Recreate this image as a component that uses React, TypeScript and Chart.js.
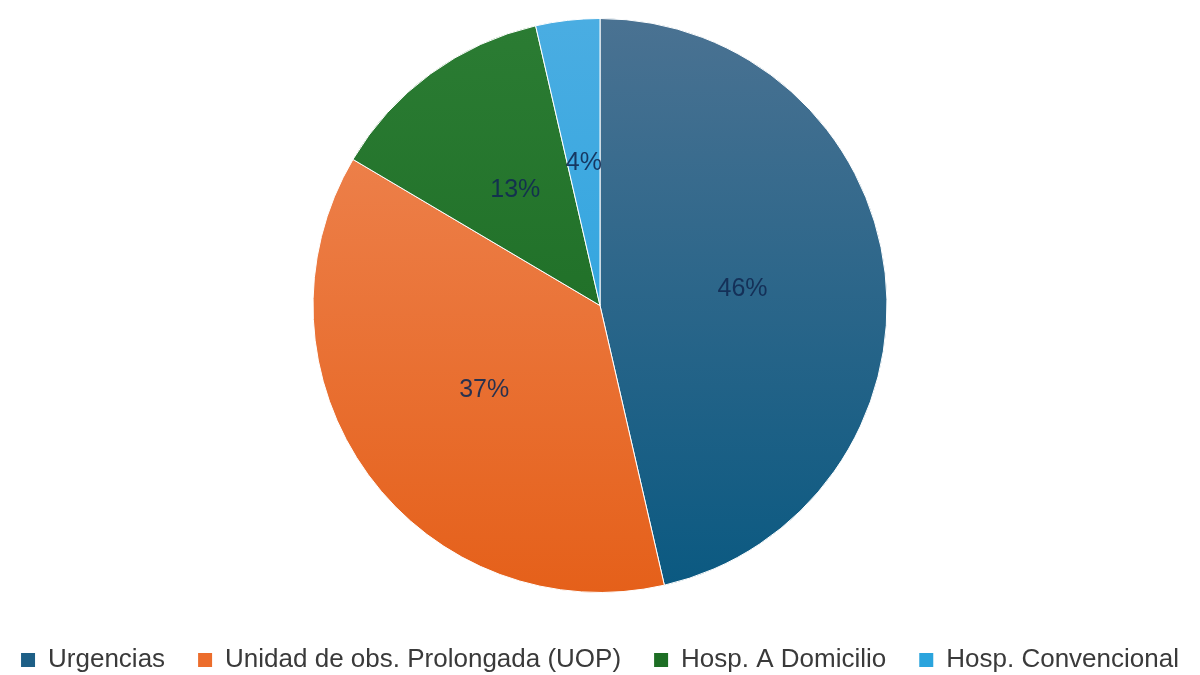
import React, { useEffect, useRef } from "react";
import { Chart, registerables } from "chart.js";

Chart.register(...registerables);

const categories = [
  "Urgencias",
  "Unidad de obs. Prolongada (UOP)",
  "Hosp. A Domicilio",
  "Hosp. Convencional",
];
const shares = [46.4, 37.1, 12.9, 3.6];
const topColors = ["#4a7292", "#ef8958", "#2b7c33", "#4aade2"];
const bottomColors = ["#0a5981", "#e5601a", "#17661f", "#1e9fdd"];
const legendColors = ["#1d5f86", "#ec6d2c", "#1d6e24", "#2aa4dd"];

const PIE_RADIUS = 287;

const pctLabels = {
  id: "pctLabels",
  afterDatasetsDraw(chart: any) {
    const meta = chart.getDatasetMeta(0);
    const c = chart.ctx;
    c.save();
    c.font = '25px "Liberation Sans", Arial, sans-serif';
    c.fillStyle = "rgba(18,42,82,0.9)";
    c.textAlign = "center";
    c.textBaseline = "middle";
    meta.data.forEach((arc: any, i: number) => {
      const p = arc.tooltipPosition(true);
      c.fillText(Math.round(shares[i]) + "%", p.x, p.y);
    });
    c.restore();
  },
};

export default function App() {
  const ref = useRef<HTMLCanvasElement | null>(null);

  useEffect(() => {
    if (!ref.current) return;
    const chart = new Chart(ref.current, {
      type: "pie",
      data: {
        labels: categories,
        datasets: [
          {
            data: shares,
            radius: PIE_RADIUS,
            borderColor: "#ffffff",
            borderWidth: 1,
            backgroundColor: (ctx: any) => {
              const i = ctx.dataIndex ?? 0;
              const ch = ctx.chart;
              const area = ch.chartArea;
              if (!area) return legendColors[i];
              const cy = (area.top + area.bottom) / 2;
              const g = ch.ctx.createLinearGradient(0, cy - PIE_RADIUS, 0, cy + PIE_RADIUS);
              g.addColorStop(0, topColors[i]);
              g.addColorStop(1, bottomColors[i]);
              return g;
            },
          } as any,
        ],
      },
      options: {
        responsive: false,
        animation: false,
        layout: { padding: { top: 19, bottom: -8, left: -22, right: -22 } },
        plugins: {
          tooltip: { enabled: false },
          legend: {
            position: "bottom",
            align: "center",
            title: { display: true, text: "", font: { size: 10 }, padding: { top: 5, bottom: 5 } },
            labels: {
              font: { size: 26, family: '"Liberation Sans", Arial, sans-serif' },
              color: "#3a3a3a",
              boxWidth: 14,
              boxHeight: 14,
              padding: 33,
              generateLabels: () =>
                categories.map((text, index) => ({
                  text,
                  fillStyle: legendColors[index],
                  strokeStyle: legendColors[index],
                  lineWidth: 0,
                  hidden: false,
                  index,
                  fontColor: "#3a3a3a",
                })),
            },
          },
        },
      } as any,
      plugins: [pctLabels],
    });
    return () => chart.destroy();
  }, []);

  return (
    <div style={{ position: "absolute", left: 0, top: 0, width: 1200, height: 675, background: "#fff" }}>
      <canvas ref={ref} width={1200} height={675} style={{ display: "block" }} />
    </div>
  );
}
